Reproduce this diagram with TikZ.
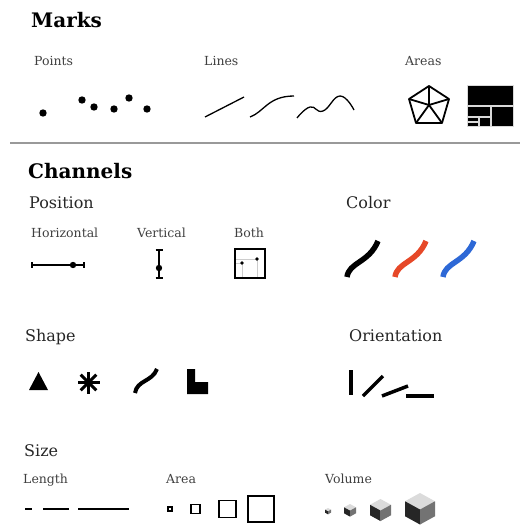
\documentclass[tikz,border=0pt]{standalone}
\usepackage{fontspec}
\setmainfont{DejaVu Serif}
\usetikzlibrary{positioning, calc}

\definecolor{rouge}{RGB}{230,72,40}
\definecolor{bleu}{RGB}{45,104,214}

% cube isométrique : sommet x, sommet y, demi-largeur
\newcommand{\isocube}[3]{%
  \pgfmathsetmacro{\ica}{#3}%
  \pgfmathsetmacro{\icb}{0.55*#3}%
  \pgfmathsetmacro{\icc}{1.1*#3}%
  \pgfmathsetmacro{\ich}{1.0*#3}%
  \fill[cubetop] (#1,#2) -- ++(\ica,\icb) -- ++(-\ica,\icb) -- ++(-\ica,-\icb) -- cycle;
  \fill[cubeleft] (#1,#2) ++(-\ica,\icb) -- ++(\ica,\icb) -- ++(0,\ich) -- ++(-\ica,-\icb) -- cycle;
  \fill[cuberight] (#1,#2) ++(0,\icc) -- ++(\ica,-\icb) -- ++(0,\ich) -- ++(-\ica,\icb) -- cycle;
}

\begin{document}
\begin{tikzpicture}[x=1pt, y=-1pt,
    titre/.style={anchor=base west, inner sep=0pt, font=\fontsize{20}{24}\selectfont\bfseries},
    soustitre/.style={anchor=base west, inner sep=0pt, font=\fontsize{16}{19}\selectfont, text=black!85},
    etiquette/.style={anchor=base west, inner sep=0pt, font=\fontsize{12.5}{15}\selectfont, text=black!75},
    trait/.style={line width=1.3pt},
    epais/.style={line width=3.5pt},
    courbe/.style={line width=5.5pt},
    cubetop/.style={fill=black!14},
    cubeleft/.style={fill=black!85},
    cuberight/.style={fill=black!55}
]
    \useasboundingbox (0,0) rectangle (520,525);

    % Titres
    \node[titre] (marks) at (31,27) {Marks};
    \node[titre] (channels) at (28,178) {Channels};
    \draw[black!40, line width=1.8pt] (10,143) -- (520,143);

    % Marks : points, lignes, aires
    \node[etiquette] (points) at (34,65) {Points};
    \node[etiquette] (lines) at (204,65) {Lines};
    \node[etiquette] (areas) at (405,65) {Areas};

    \foreach \x/\y in {43/113, 82/100, 94/107, 114/109, 129/98, 147/109}
        \fill (\x,\y) circle (3.7);

    \draw[trait] (205,117) -- (244,97);
    \draw[trait] (250,117) .. controls (264,112) and (268,96) .. (294,96);
    \draw[trait] plot[smooth, tension=0.8] coordinates {(297,118) (310,107) (323,111) (340,96) (354,110)};

    \draw[line width=1.8pt, line join=round] (429,86) -- (449,99) -- (442,123) -- (416,123) -- (409,99) -- cycle;
    \foreach \x/\y in {429/86, 449/99, 442/123, 416/123, 409/99}
        \draw[line width=1.8pt] (429,105) -- (\x,\y);

    \begin{scope}[draw=black!15, line width=1pt]
        \filldraw[fill=black] (467,85) rectangle (513,105);
        \filldraw[fill=black] (491,106) rectangle (513,126);
        \filldraw[fill=black] (467,106) rectangle (490,116);
        \filldraw[fill=black] (467,117) rectangle (478,121);
        \filldraw[fill=black] (467,122) rectangle (478,126);
        \filldraw[fill=black] (479,117) rectangle (490,126);
    \end{scope}

    % Position
    \node[soustitre] (position) at (29,208) {Position};
    \node[etiquette] (horizontal) at (31,237) {Horizontal};
    \node[etiquette] (vertical) at (137,237) {Vertical};
    \node[etiquette] (both) at (234,237) {Both};

    \draw[trait] (32,265) -- (84,265);
    \draw[trait] (32,262) -- (32,268) (84,262) -- (84,268);
    \fill (73,265) circle (3.2);

    \draw[trait] (159,250) -- (159,278);
    \draw[trait] (155.5,250) -- (162.5,250) (155.5,278) -- (162.5,278);
    \fill (159,268) circle (3.2);

    \draw[black!20, line width=0.8pt] (235,263) -- (242,263) -- (242,278);
    \draw[black!20, line width=0.8pt] (235,259) -- (257,259) -- (257,278);
    \draw[trait] (235,249) rectangle (265,278);
    \fill (242,263) circle (1.8) (257,259) circle (1.8);

    % Couleur
    \node[soustitre] (color) at (346,208) {Color};
    \foreach \dx/\col in {0/black, 48/rouge, 96/bleu}
        \draw[courbe, \col, xshift=\dx] (347,277) .. controls (349,262) and (369,263) .. (378,241);

    % Forme
    \node[soustitre] (shape) at (25,341) {Shape};
    \fill (29,390) -- (48,390) -- (38.5,372) -- cycle;
    \foreach \a in {0,45,90,135}
        \draw[line width=3pt] (88.5,382.5) ++(\a:11) -- ++(\a+180:22);
    \draw[line width=4pt] (135,393) .. controls (137,380) and (152,382) .. (157,369);
    \fill (187,369) -- (195,369) -- (195,382) -- (208,382) -- (208,394) -- (187,394) -- cycle;

    % Orientation
    \node[soustitre] (orientation) at (349,341) {Orientation};
    \draw[epais] (351,370) -- (351,395);
    \draw[epais] (363,396) -- (383,376);
    \draw[epais] (382,396) -- (408,386);
    \draw[epais] (406,396) -- (434,396);

    % Taille
    \node[soustitre] (size) at (24,456) {Size};
    \node[etiquette] (length) at (23,483) {Length};
    \node[etiquette] (area) at (166,483) {Area};
    \node[etiquette] (volume) at (325,483) {Volume};

    \draw[line width=1.5pt] (25,509) -- (32,509) (43,509) -- (69,509) (78,509) -- (129,509);

    \foreach \c/\s in {170/4, 195.5/9, 227.5/17, 261/26}
        \draw[trait] ({\c-\s/2},{509-\s/2}) rectangle ++(\s,\s);

    \isocube{328}{508}{3}
    \isocube{350}{504}{6}
    \isocube{380.5}{499}{10.5}
    \isocube{420}{493}{15}
\end{tikzpicture}
\end{document}
